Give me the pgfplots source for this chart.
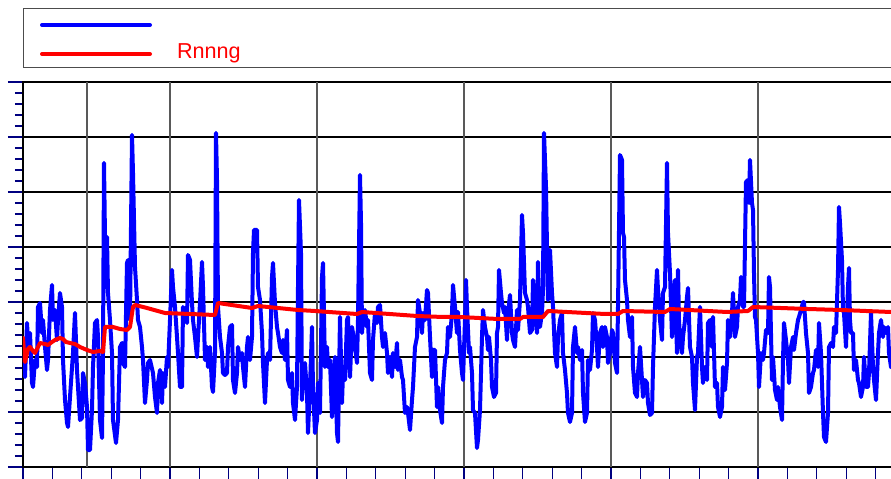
\documentclass[border=0pt]{standalone}
\usepackage{pgfplots}
\pgfplotsset{compat=1.18}
\usepackage{pgfplotstable}
\usepackage{fontspec}
\setmainfont{Liberation Sans}

% measured signal
\pgfplotstableread{
x y
23 110
24 100
25 90
27 144
28 127
30 134
32 84
33 80
35 107
37 100
38 160
40 164
42 134
43 147
45 120
47 97
48 107
50 157
52 182
53 147
55 157
57 127
58 147
60 174
62 160
63 107
65 67
67 44
68 40
70 70
73 114
75 154
77 97
78 80
80 47
82 49
83 94
85 84
87 60
88 17
90 17
92 57
93 100
95 144
97 147
98 130
100 47
102 29
103 114
104 304
105 230
106 180
107 230
108 174
110 147
112 114
113 47
116 24
118 47
120 120
122 124
123 104
125 100
127 204
128 207
130 147
132 332
133 294
135 200
137 167
138 147
140 140
142 120
143 107
145 64
147 87
148 104
150 107
153 94
155 70
157 54
158 84
160 97
162 64
163 94
165 80
167 110
168 100
170 147
172 197
173 180
175 160
177 130
178 114
180 80
182 80
183 160
185 154
187 144
188 212
190 207
192 164
193 147
195 130
197 110
198 130
200 164
202 205
203 180
205 107
207 120
208 100
210 120
212 80
213 75
215 114
216 334
217 287
218 160
220 130
222 114
223 94
225 92
227 94
228 120
230 140
232 142
233 87
235 74
237 94
238 120
240 107
242 114
243 100
245 80
247 120
248 130
250 107
252 130
253 214
254 237
257 237
258 180
260 167
262 134
263 104
265 64
267 107
268 114
270 107
272 190
273 204
275 164
277 140
278 134
280 120
282 114
283 127
285 107
287 137
288 87
290 80
292 94
293 64
295 47
297 80
298 180
299 267
301 214
302 67
303 87
305 104
307 74
308 34
310 80
312 140
313 80
315 34
317 47
318 84
320 54
322 190
323 204
325 100
327 120
328 100
330 107
332 50
333 84
335 110
337 34
338 25
340 150
342 64
343 94
345 87
347 147
348 150
350 90
352 140
353 134
355 120
357 104
358 147
360 292
361 244
362 134
363 147
365 157
367 140
368 147
370 94
372 87
373 127
375 154
377 144
378 160
380 162
382 130
383 120
385 134
387 114
388 94
390 110
392 90
393 114
395 100
397 124
398 97
400 107
402 90
403 87
405 54
407 60
408 54
410 37
412 67
413 80
415 120
417 130
418 167
420 154
422 134
423 154
425 147
427 177
428 174
430 130
432 90
433 117
435 117
437 60
438 80
440 57
442 44
443 80
445 107
447 114
448 140
450 130
452 154
453 182
455 160
457 134
458 155
460 117
462 94
463 87
465 147
466 187
467 160
469 114
470 120
472 94
473 57
475 54
477 19
478 27
480 57
482 130
483 157
485 140
487 130
488 117
489 130
491 107
492 80
494 70
496 74
497 134
498 140
499 197
501 174
502 164
504 154
505 160
507 127
508 154
510 172
512 134
513 127
515 120
517 157
518 137
520 167
522 252
523 234
525 174
527 167
528 160
530 134
532 137
533 187
535 160
537 134
538 205
540 140
542 154
543 177
544 334
546 280
547 220
548 167
550 217
552 174
553 160
555 114
557 100
558 130
560 147
562 154
563 114
565 97
567 74
568 54
570 45
572 54
573 120
575 140
577 114
578 120
580 107
582 117
583 74
585 45
587 54
588 107
590 97
592 117
593 154
595 147
597 120
598 100
600 134
602 140
603 120
605 140
607 130
608 104
610 114
612 137
613 134
615 104
617 94
618 160
620 312
622 307
623 234
624 230
625 187
627 167
628 147
630 130
632 150
633 100
635 74
637 70
638 94
640 120
642 87
643 70
645 87
647 84
648 64
650 52
652 54
653 100
655 160
657 197
658 177
660 147
662 127
663 174
665 180
667 304
668 234
670 194
672 130
673 160
675 187
677 114
678 197
679 147
680 130
682 114
683 130
685 147
687 170
688 179
690 120
692 110
693 84
695 57
697 110
698 114
700 160
702 100
703 84
705 100
707 87
708 144
710 147
712 120
713 150
715 80
717 84
718 60
720 50
722 60
723 100
725 77
727 104
728 147
730 130
732 154
733 174
735 130
737 140
738 160
740 167
741 190
743 160
744 160
746 285
748 287
749 264
750 307
752 264
753 257
754 194
755 150
756 147
758 114
759 80
761 114
763 107
764 114
766 137
768 134
769 190
770 180
772 87
773 110
775 77
777 67
778 80
780 60
782 47
783 107
784 144
786 127
788 107
789 84
791 120
793 130
794 117
796 134
798 147
799 150
801 157
803 165
804 165
806 134
808 114
809 74
811 80
813 94
814 97
816 117
818 100
819 144
821 114
823 54
824 30
826 25
828 54
829 120
831 124
833 120
834 140
836 134
838 197
839 260
840 244
842 207
843 157
844 154
846 120
848 180
849 199
850 147
851 134
853 134
854 97
856 107
858 87
859 84
861 70
863 80
864 110
866 80
868 80
869 94
871 154
873 100
874 87
876 67
878 114
879 134
881 147
883 130
884 140
886 134
888 140
889 114
891 100
}\signaldata

% running average
\pgfplotstableread{
x y
23 129
24 115
25 105
28 118
30 120
33 116
35 114
38 120
40 124
45 123
48 122
52 125
55 127
60 129
63 128
66 125
70 124
75 123
80 120
87 117
93 115
100 116
103 115
105 140
113 140
120 138
127 137
130 140
133 160
135 162
147 159
165 154
190 153
215 152
218 164
252 159
258 161
298 157
315 156
357 153
362 155
417 151
443 150
460 150
498 148
520 148
523 150
543 150
548 156
605 153
618 153
623 156
665 155
670 158
727 155
748 156
753 160
808 158
841 157
891 155
}\runningdata

\begin{document}
\begin{tikzpicture}
\begin{axis}[
  at={(11.5pt,5.5pt)}, anchor=south west,
  scale only axis, width=436pt, height=192.5pt,
  xmin=23, xmax=895, ymin=0, ymax=385,
  xtick={23,52.4,...,891},
  ytick={0,55,...,385}, minor y tick num=4,
  xticklabels={}, yticklabels={},
  tick pos=left, tick align=outside,
  major tick length=7.5pt, minor tick length=4pt,
  every tick/.style={blue!50!black, line width=0.6pt},
  ymajorgrids, xmajorgrids=false,
  major grid style={black, line width=1pt},
  axis line style={black, line width=1.1pt},
  extra x ticks={87,170,317,464,611,758},
  extra x tick labels={},
  extra x tick style={xmajorgrids=true, major tick length=0pt,
    major grid style={black!65, line width=0.6pt}},
  legend style={draw=none, fill=none, at={(0.0195,1.1766)}, anchor=north west,
    inner sep=0pt, outer sep=0pt, row sep=3.5pt, column sep=12.5pt,
    font=\fontsize{10.8pt}{13pt}\selectfont,
    nodes={inner sep=0pt, text height=8pt, text depth=3pt}},
  legend cell align=left,
  legend image code/.code={\draw[#1] (0pt,0pt) -- (54pt,0pt);},
]
\addplot[blue, line width=2pt, line join=round, line cap=round] table[x=x, y=y] {\signaldata};
\addlegendentry{}
\addplot[red, line width=2pt, line join=round, line cap=round] table[x=x, y=y] {\runningdata};
\addlegendentry{\textcolor{red}{Rnnng}}
\end{axis}
\draw[black!70, line width=0.5pt] (11.5pt,205pt) rectangle (460pt,234.5pt);
\pgfresetboundingbox
\useasboundingbox (0,0) rectangle (445.5pt,239pt);
\end{tikzpicture}
\end{document}
